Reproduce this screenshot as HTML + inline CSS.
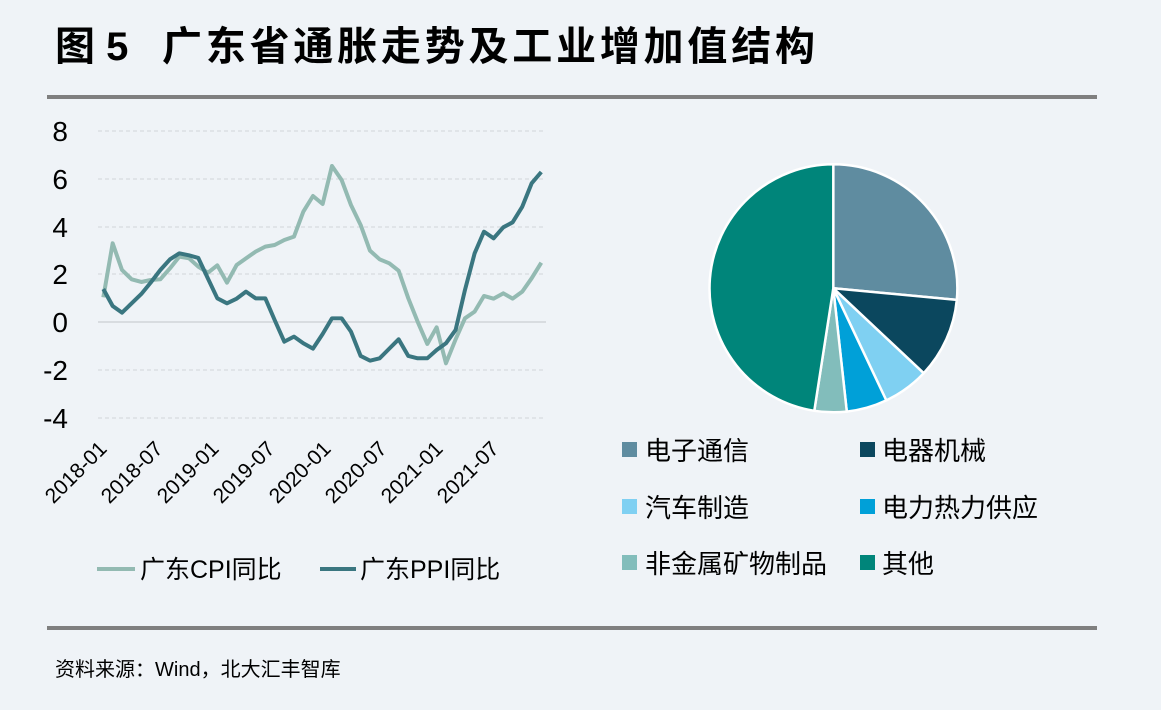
<!DOCTYPE html>
<html><head><meta charset="utf-8"><style>
body{margin:0;width:1161px;height:710px;background:#eff3f7;font-family:"Liberation Sans","Noto Sans CJK SC",sans-serif;overflow:hidden}
</style></head><body>
<svg width="1161" height="710" xmlns="http://www.w3.org/2000/svg" style="position:absolute;left:0;top:0">
<text x="55" y="60" font-size="40" font-weight="bold" fill="#000">图 5</text>
<text x="162" y="60" font-size="40" font-weight="bold" fill="#000" textLength="653" lengthAdjust="spacing">广东省通胀走势及工业增加值结构</text>
<rect x="47" y="95" width="1050" height="4" fill="#7f7f7f"/>
<rect x="47" y="626" width="1050" height="4" fill="#7f7f7f"/>
<text x="55" y="676" font-size="20" fill="#000">资料来源：Wind，北大汇丰智库</text>
<g stroke="#d0d4d8" stroke-width="1" stroke-dasharray="4,3">
<line x1="98" x2="546" y1="131" y2="131"/><line x1="98" x2="546" y1="179" y2="179"/><line x1="98" x2="546" y1="227" y2="227"/><line x1="98" x2="546" y1="274" y2="274"/><line x1="98" x2="546" y1="370" y2="370"/><line x1="98" x2="546" y1="418" y2="418"/>
</g>
<line x1="98" x2="546" y1="322" y2="322" stroke="#d0d4d8" stroke-width="1.5"/>
<g font-size="28" fill="#000" text-anchor="end">
<text x="68" y="141">8</text><text x="68" y="189">6</text><text x="68" y="237">4</text><text x="68" y="284">2</text><text x="68" y="332">0</text><text x="68" y="380">-2</text><text x="68" y="428">-4</text>
</g>
<g font-size="21" fill="#000" text-anchor="end">
<text transform="translate(108,450) rotate(-45)">2018-01</text>
<text transform="translate(164,450) rotate(-45)">2018-07</text>
<text transform="translate(220,450) rotate(-45)">2019-01</text>
<text transform="translate(276,450) rotate(-45)">2019-07</text>
<text transform="translate(332,450) rotate(-45)">2020-01</text>
<text transform="translate(388,450) rotate(-45)">2020-07</text>
<text transform="translate(444,450) rotate(-45)">2021-01</text>
<text transform="translate(500,450) rotate(-45)">2021-07</text>
</g>
<g transform="translate(40,110) scale(0.3333)" fill="none" stroke-width="12" stroke-linejoin="round">
<polyline stroke="#93bab2" points="190,562 218,400 246,480 275,508 304,516 332,510 361,508 390,475 418,440 447,445 475,470 504,488 532,466 561,518 590,465 618,445 647,425 676,410 704,405 733,390 762,380 790,305 819,258 848,282 876,168 905,210 933,285 962,345 990,422 1019,448 1048,460 1076,482 1105,565 1133,635 1162,702 1190,652 1218,760 1247,688 1275,625 1304,605 1332,558 1361,566 1390,550 1418,566 1447,545 1475,505 1504,458"/>
<polyline stroke="#3a7680" points="190,537 218,588 246,608 275,580 304,552 332,518 361,480 390,448 418,430 447,436 475,444 504,506 532,565 561,580 590,566 618,545 647,565 676,565 704,630 733,695 762,680 790,700 819,716 848,672 876,625 905,625 933,665 962,738 990,752 1019,745 1048,716 1076,688 1105,738 1133,745 1162,745 1190,720 1218,700 1247,660 1275,540 1304,430 1332,365 1361,385 1390,352 1418,337 1447,290 1475,220 1504,186"/>
</g>
<line x1="97" x2="135" y1="569" y2="569" stroke="#93bab2" stroke-width="4"/>
<text x="140" y="578" font-size="25" fill="#000">广东CPI同比</text>
<line x1="320" x2="356" y1="569" y2="569" stroke="#3a7680" stroke-width="4"/>
<text x="360" y="578" font-size="25" fill="#000">广东PPI同比</text>
<g stroke="#fff" stroke-width="2.5" stroke-linejoin="round">
<path d="M833.3,288.3 L833.3,164.3 A124,124 0 0 1 956.8,299.9 Z" fill="#5f8ca0"/>
<path d="M833.3,288.3 L956.8,299.9 A124,124 0 0 1 923.7,373.2 Z" fill="#0b475e"/>
<path d="M833.3,288.3 L923.7,373.2 A124,124 0 0 1 886.3,400.4 Z" fill="#7fd0f2"/>
<path d="M833.3,288.3 L886.3,400.4 A124,124 0 0 1 846.8,411.6 Z" fill="#00a0d8"/>
<path d="M833.3,288.3 L846.8,411.6 A124,124 0 0 1 814.3,410.8 Z" fill="#82bdbb"/>
<path d="M833.3,288.3 L814.3,410.8 A124,124 0 0 1 833.3,164.3 Z" fill="#00857a"/>
</g>
<g font-size="26" fill="#000">
<rect x="622" y="442" width="15" height="15" fill="#5f8ca0"/><text x="645" y="460">电子通信</text>
<rect x="860" y="442" width="15" height="15" fill="#0b475e"/><text x="882" y="460">电器机械</text>
<rect x="622" y="499" width="15" height="15" fill="#7fd0f2"/><text x="645" y="517">汽车制造</text>
<rect x="860" y="499" width="15" height="15" fill="#00a0d8"/><text x="882" y="517">电力热力供应</text>
<rect x="622" y="555" width="15" height="15" fill="#82bdbb"/><text x="645" y="573">非金属矿物制品</text>
<rect x="860" y="555" width="15" height="15" fill="#00857a"/><text x="882" y="573">其他</text>
</g>
</svg>
</body></html>
